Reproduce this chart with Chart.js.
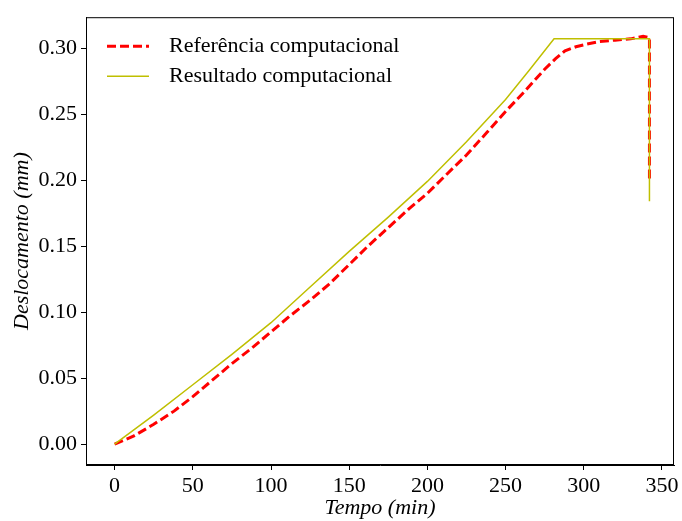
<!DOCTYPE html>
<html>
<head>
<meta charset="utf-8">
<script src="https://cdn.jsdelivr.net/npm/chart.js@4.4.0/dist/chart.umd.min.js"></script>
<style>
  html, body { margin: 0; padding: 0; background: #fff; }
  #wrap { width: 682px; height: 521px; }
</style>
</head>
<body>
<div id="wrap"><canvas id="deslocamento"></canvas></div>
<script>
const seriesNames = ["Referência computacional", "Resultado computacional"];

// referencia (vermelho tracejado)
const tempoRef = [0, 12, 25, 38, 50, 62, 75, 88, 100, 112, 125, 137, 150, 162, 175, 188, 200, 212, 225, 238, 250, 262, 275, 282, 288, 295, 302, 310, 320, 330, 338, 342, 342];
const deslRef = [0, 0.006, 0.015, 0.025, 0.036, 0.048, 0.061, 0.073, 0.085, 0.097, 0.109, 0.121, 0.136, 0.150, 0.164, 0.178, 0.190, 0.204, 0.219, 0.236, 0.252, 0.267, 0.284, 0.292, 0.298, 0.301, 0.303, 0.305, 0.306, 0.307, 0.309, 0.308, 0.201];

// resultado (amarelo)
const tempoRes = [0, 25, 50, 75, 100, 125, 150, 175, 200, 225, 250, 265, 281, 342, 342];
const deslRes = [0, 0.022, 0.045, 0.068, 0.092, 0.119, 0.146, 0.172, 0.199, 0.229, 0.261, 0.283, 0.307, 0.307, 0.184];

const xTicks = [0, 50, 100, 150, 200, 250, 300, 350];
const yTicks = [0, 0.05, 0.10, 0.15, 0.20, 0.25, 0.30];

const serif = "'Liberation Serif', 'Times New Roman', serif";

function pts(xs, ys) {
  return xs.map((x, i) => ({ x: x, y: ys[i] }));
}

const frameAndLegend = {
  id: "frameAndLegend",
  afterDatasetsDraw(chart) {
    const ctx = chart.ctx;
    const a = chart.chartArea;
    ctx.save();
    ctx.strokeStyle = "#000";
    ctx.lineWidth = 1;
    ctx.strokeRect(a.left + 0.5, a.top + 0.5, a.right - a.left - 1, a.bottom - a.top - 1);

    // legenda
    const items = [
      { dash: [9, 4], color: "#ff0000", width: 3 },
      { dash: [], color: "#bfbf00", width: 1.5 }
    ];
    ctx.font = "22px " + serif;
    ctx.textBaseline = "middle";
    ctx.fillStyle = "#000";
    items.forEach((it, i) => {
      const y = a.top + 29 + i * 30;
      ctx.beginPath();
      ctx.setLineDash(it.dash);
      ctx.strokeStyle = it.color;
      ctx.lineWidth = it.width;
      ctx.moveTo(a.left + 21, y);
      ctx.lineTo(a.left + 63, y);
      ctx.stroke();
      ctx.setLineDash([]);
      ctx.fillText(seriesNames[i], a.left + 83, y);
    });
    ctx.restore();
  }
};

const config = {
  type: "line",
  data: {
    datasets: [
      {
        label: seriesNames[0],
        data: pts(tempoRef, deslRef),
        borderColor: "#ff0000",
        borderWidth: 3,
        borderDash: [9, 4],
        pointRadius: 0,
        tension: 0,
        fill: false,
        order: 1
      },
      {
        label: seriesNames[1],
        data: pts(tempoRes, deslRes),
        borderColor: "#bfbf00",
        borderWidth: 1.5,
        pointRadius: 0,
        tension: 0,
        fill: false,
        order: 0
      }
    ]
  },
  options: {
    responsive: true,
    maintainAspectRatio: false,
    animation: false,
    layout: { padding: { top: 15, right: 8, left: 0, bottom: 0 } },
    plugins: {
      legend: false,
      title: false,
      tooltip: false
    },
    scales: {
      x: {
        type: "linear",
        min: -18.3,
        max: 357.7,
        afterBuildTicks: (s) => { s.ticks = xTicks.map(v => ({ value: v })); },
        afterFit: (s) => { s.height = 56; },
        grid: { drawOnChartArea: false, drawTicks: true, tickLength: 5, color: "#000" },
        border: { display: true, color: "#000", width: 1 },
        ticks: {
          color: "#000",
          padding: 3,
          maxRotation: 0,
          font: { family: serif, size: 22 },
          callback: (v) => String(v)
        },
        title: {
          display: true,
          text: "Tempo (min)",
          color: "#000",
          padding: { top: 0, bottom: 0 },
          font: { family: serif, size: 22, style: "italic" }
        }
      },
      y: {
        type: "linear",
        min: -0.0158,
        max: 0.3234,
        afterBuildTicks: (s) => { s.ticks = yTicks.map(v => ({ value: v })); },
        afterFit: (s) => { s.width = 86; },
        grid: { drawOnChartArea: false, drawTicks: true, tickLength: 5, color: "#000" },
        border: { display: true, color: "#000", width: 1 },
        ticks: {
          color: "#000",
          padding: 4,
          font: { family: serif, size: 22 },
          callback: (v) => Number(v).toFixed(2)
        },
        title: {
          display: true,
          text: "Deslocamento (mm)",
          color: "#000",
          padding: { top: 9, bottom: 0 },
          font: { family: serif, size: 22, style: "italic" }
        }
      }
    }
  },
  plugins: [frameAndLegend]
};

const graficoDesl = new Chart("deslocamento", config);
</script>
</body>
</html>
